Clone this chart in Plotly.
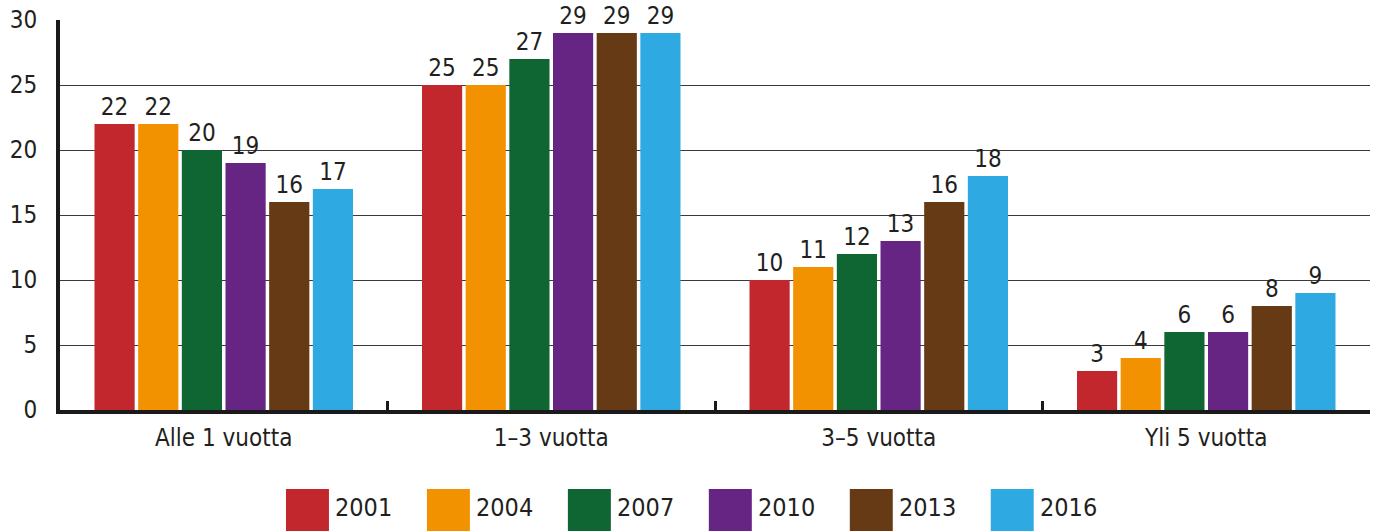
import plotly.graph_objects as go

categories = ["Alle 1 vuotta", "1\u20133 vuotta", "3\u20135 vuotta", "Yli 5 vuotta"]
years = ["2001", "2004", "2007", "2010", "2013", "2016"]
values_2001 = [22, 25, 10, 3]
values_2004 = [22, 25, 11, 4]
values_2007 = [20, 27, 12, 6]
values_2010 = [19, 29, 13, 6]
values_2013 = [16, 29, 16, 8]
values_2016 = [17, 29, 18, 9]
series = [values_2001, values_2004, values_2007, values_2010, values_2013, values_2016]
colors = ["#C1272D", "#F39200", "#106633", "#662483", "#663A14", "#2EA9E1"]

FONT = "DejaVu Sans Condensed, sans-serif"
TXT = "#231F20"

fig = go.Figure()
for yr, vals, col in zip(years, series, colors):
    fig.add_trace(go.Bar(
        x=categories, y=vals, name=yr,
        marker=dict(color=col, line=dict(width=0)),
        text=[str(v) for v in vals], textposition="outside",
        textfont=dict(size=24, color=TXT, family=FONT),
        cliponaxis=False, showlegend=False,
    ))

# custom legend with large swatches (paper coords relative to plot area)
shapes = []
annotations = []
x0 = 0.1725
step = 0.1076
w = 0.0328
for i, (yr, col) in enumerate(zip(years, colors)):
    xs = x0 + i * step
    shapes.append(dict(type="rect", xref="paper", yref="paper",
                       x0=xs, x1=xs + w, y0=-0.33, y1=-0.2026,
                       fillcolor=col, line=dict(width=0)))
    annotations.append(dict(xref="paper", yref="paper", x=xs + w + 0.003, y=-0.251,
                            xanchor="left", yanchor="middle", text=yr, showarrow=False,
                            font=dict(size=25, color=TXT, family=FONT)))

fig.update_layout(
    width=1376, height=531,
    margin=dict(l=60, r=6, t=20, b=121),
    paper_bgcolor="white", plot_bgcolor="white",
    barmode="group", bargap=0.2, bargroupgap=0.08,
    font=dict(family=FONT, color=TXT),
    shapes=shapes, annotations=annotations,
    showlegend=False,
)
fig.update_yaxes(
    range=[0, 30], dtick=5, showgrid=True, gridcolor="#3a3a3a", gridwidth=1,
    showline=True, linecolor="#1a1a1a", linewidth=4, zeroline=False,
    ticks="", ticklabelstandoff=14, tickfont=dict(size=24, color=TXT, family=FONT),
)
fig.update_xaxes(
    range=[-0.5, 3.5], showgrid=False, showline=True, linecolor="#1a1a1a", linewidth=4,
    ticks="inside", tickson="boundaries", ticklen=9, tickwidth=3, tickcolor="#1a1a1a",
    ticklabelstandoff=3, tickfont=dict(size=24, color=TXT, family=FONT),
)

fig.write_html("out.html", config={"displayModeBar": False},
               post_script="document.body.style.margin='0px';")
